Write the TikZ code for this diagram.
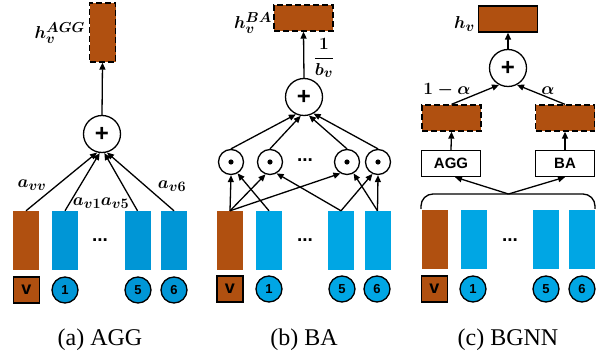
\documentclass[tikz,border=0pt]{standalone}
\usepackage{amsmath}
\usepackage{fontspec}
\setmainfont{Liberation Serif}
\newfontfamily\lsans{Liberation Sans}
\usetikzlibrary{arrows.meta}
\definecolor{rust}{RGB}{176,80,16}
\definecolor{skyA}{RGB}{0,150,214}
\definecolor{skyB}{RGB}{0,166,228}
\tikzset{
  vbar/.style={rectangle,inner sep=0,minimum width=26pt,minimum height=59pt},
  hbar/.style={rectangle,inner sep=0,minimum width=59pt,minimum height=26pt},
  obarv/.style={vbar,fill=rust},
  bbarA/.style={vbar,fill=skyA},
  bbarB/.style={vbar,fill=skyB},
  dashbox/.style={fill=rust,draw=black,line width=1.3pt,dash pattern=on 6pt off 3pt},
  vsq/.style={rectangle,draw=black,line width=1.3pt,fill=rust,inner sep=0,minimum width=26pt,minimum height=26pt,font=\lsans\bfseries\fontsize{18}{18}\selectfont},
  numc/.style={circle,draw=black,line width=1.3pt,inner sep=0,minimum size=26pt,font=\lsans\bfseries\fontsize{13}{13}\selectfont},
  opc/.style={circle,draw=black,line width=1.3pt,fill=white,inner sep=0},
  opbig/.style={opc,minimum size=37pt,font=\lsans\bfseries\fontsize{24}{24}\selectfont},
  opsmall/.style={opc,minimum size=25pt},
  txtbox/.style={rectangle,draw=black,line width=1.3pt,inner sep=0,minimum width=59pt,minimum height=26pt,font=\lsans\bfseries\fontsize{15}{15}\selectfont},
  conn/.style={line width=1.3pt},
  arr/.style={conn,-{Triangle[length=7pt,width=6pt]}},
  mlab/.style={inner sep=0,font=\boldmath\fontsize{19}{19}\selectfont},
  captxt/.style={inner sep=0,font=\fontsize{24}{24}\selectfont},
  dotsn/.style={inner sep=0,font=\lsans\bfseries\fontsize{19}{19}\selectfont},
}
\begin{document}
\begin{tikzpicture}[x=1pt,y=-1pt]
\useasboundingbox (0,0) rectangle (608,358);
% ---------- panel (a)
\node[obarv] (aV) at (26,240.5) {};
\node[bbarA] (a1) at (65,240.5) {};
\node[bbarA] (a5) at (137.5,240.5) {};
\node[bbarA] (a6) at (174,240.5) {};
\node[dotsn] (adots) at (100,240) {...};
\node[vsq] (aVl) at (26.5,290) {v};
\node[numc,fill=skyA] (a1l) at (65,290) {1};
\node[numc,fill=skyA] (a5l) at (138,290) {5};
\node[numc,fill=skyA] (a6l) at (174,290) {6};
\node[opbig] (aP) at (102,134) {+};
\node[vbar,dashbox] (aTop) at (102.5,32.5) {};
\node[mlab,anchor=east] (aTopL) at (85,33) {$h_v^{AGG}$};
\draw[arr] (aP.north) -- (aTop.south);
\draw[arr] (aV.north) -- (aP.-105);
\draw[arr] (a1.north) -- (aP.-97);
\draw[arr] (a5.north) -- (aP.-83);
\draw[arr] (a6.north) -- (aP.-75);
\node[mlab] (lvv) at (32,185) {$a_{vv}$};
\node[mlab] (lv1) at (87,203) {$a_{v1}$};
\node[mlab] (lv5) at (115,203) {$a_{v5}$};
\node[mlab] (lv6) at (172,186) {$a_{v6}$};
\node[captxt] (capa) at (100,340) {(a) AGG};
% ---------- panel (b)
\node[obarv] (bV) at (230,240.5) {};
\node[bbarB] (b1) at (269,240.5) {};
\node[bbarB] (b5) at (341,240.5) {};
\node[bbarB] (b6) at (377.5,240.5) {};
\node[dotsn] (bdots) at (305,240) {...};
\node[vsq] (bVl) at (230,289) {v};
\node[numc,fill=skyB] (b1l) at (269,289) {1};
\node[numc,fill=skyB] (b5l) at (342,289) {5};
\node[numc,fill=skyB] (b6l) at (377,289) {6};
\node[opsmall] (d1) at (231,162) {};
\node[opsmall] (d2) at (270,162) {};
\node[opsmall] (d3) at (347,162) {};
\node[opsmall] (d4) at (378,162) {};
\foreach \d in {d1,d2,d3,d4} \fill (\d.center) circle (2.6pt);
\node[dotsn] (ddots) at (305,160) {...};
\node[opbig] (bP) at (304,97) {+};
\node[hbar,dashbox] (bTop) at (303.5,18) {};
\node[mlab,anchor=east] (bTopL) at (272,23) {$h_v^{BA}$};
\node[mlab] (bfrac) at (324,58) {$\dfrac{1}{b_v}$};
\draw[arr] (bP.north) -- (bTop.south);
\draw[arr] (d1.north) -- (bP.-115);
\draw[arr] (d2.north) -- (bP.-100);
\draw[arr] (d3.north) -- (bP.-75);
\draw[arr] (d4.north) -- (bP.-60);
\draw[arr] (bV.north) -- (d1.south);
\draw[arr] (bV.north) -- (d2.-110);
\draw[arr] (bV.north) -- (d3.-120);
\draw[arr] (b1.north) -- (d1.-60);
\draw[arr] (b5.north) -- (d2.-60);
\draw[arr] (b5.north) -- (d4.-115);
\draw[arr] (b6.north) -- (d3.-60);
\draw[arr] (b6.north) -- (d4.south);
\node[captxt] (capb) at (304,340) {(b) BA};
% ---------- panel (c)
\node[obarv] (cV) at (434.5,240) {};
\node[bbarB] (c1) at (473.5,240) {};
\node[bbarB] (c5) at (546,240) {};
\node[bbarB] (c6) at (581.5,240) {};
\node[dotsn] (cdots) at (510,240) {...};
\node[vsq] (cVl) at (434.5,289) {v};
\node[numc,fill=skyB] (c1l) at (473,289) {1};
\node[numc,fill=skyB] (c5l) at (546,289) {5};
\node[numc,fill=skyB] (c6l) at (582,289) {6};
\coordinate (brL) at (421,209);
\coordinate (brR) at (595,209);
\coordinate (brC) at (508.5,194);
\draw[conn,rounded corners=12pt] (brL) -- (421,194) -- (brC) -- (595,194) -- (brR);
\node[txtbox] (agg) at (451,163.5) {AGG};
\node[txtbox] (ba) at (565,163.5) {BA};
\draw[arr] (brC) -- ([xshift=4pt]agg.south);
\draw[arr] (brC) -- (ba.south);
\node[hbar,dashbox] (cL) at (451.5,118) {};
\node[hbar,dashbox] (cR) at (565,118) {};
\draw[arr] (agg.north) -- (cL.south);
\draw[arr] (ba.north) -- (cR.south);
\node[opbig] (cP) at (508,68) {+};
\draw[arr] (cL.north) -- (cP.-118);
\draw[arr] (cR.north) -- (cP.-62);
\node[hbar,fill=rust,draw=black,line width=1.3pt] (cTop) at (508,19) {};
\draw[arr] (cP.north) -- (cTop.south);
\node[mlab,anchor=east] (cTopL) at (475,24) {$h_v$};
\node[mlab] (la) at (447,90) {$1-\alpha$};
\node[mlab] (lb) at (548,91) {$\alpha$};
\node[captxt] (capc) at (508,340) {(c) BGNN};
\end{tikzpicture}
\end{document}
